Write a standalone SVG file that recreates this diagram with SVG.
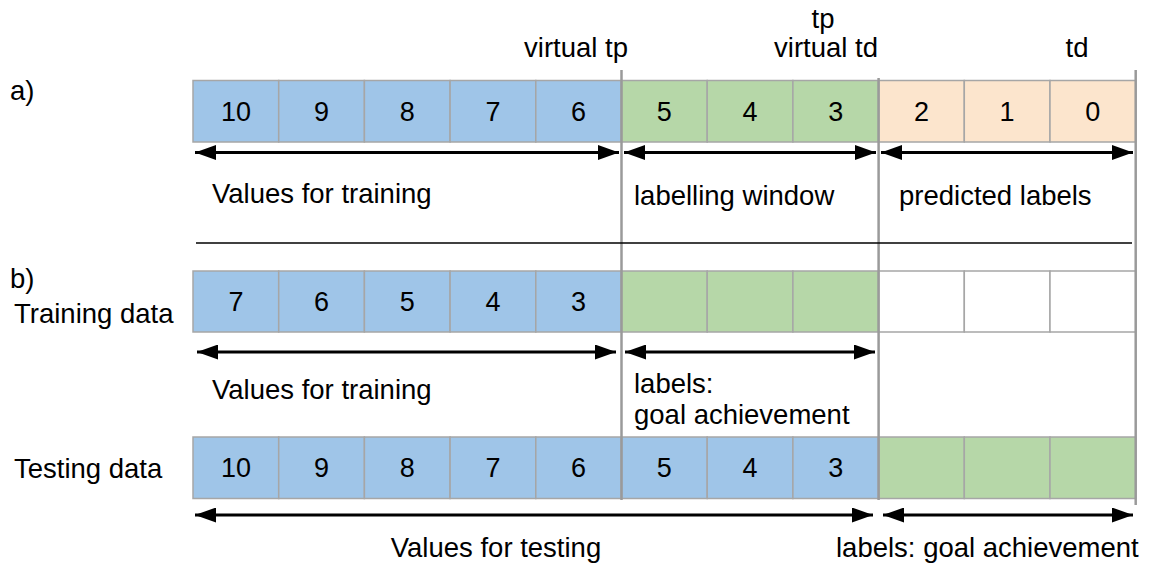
<svg xmlns="http://www.w3.org/2000/svg" width="1152" height="567" viewBox="0 0 1152 567">
<defs>
<marker id="ah" viewBox="0 0 10 10" refX="10" refY="5" markerWidth="7" markerHeight="5" markerUnits="strokeWidth" orient="auto-start-reverse" preserveAspectRatio="none">
<path d="M0,0 L10,5 L0,10 z" fill="#000"/>
</marker>
<style>
text{font-family:"Liberation Sans",Arial,sans-serif;fill:#000}
.lbl{font-size:27.5px}
.num{font-size:27px;text-anchor:middle}
.mid{text-anchor:middle}
.c{stroke:#a6a6a6;stroke-width:1.5}
.b{fill:#9fc5e8}
.g{fill:#b6d7a8}
.o{fill:#fce5cd}
.w{fill:#fff}
.div{stroke:#9a9a9a;stroke-width:2.5;fill:none}
.arr{stroke:#000;stroke-width:3;fill:none;marker-start:url(#ah);marker-end:url(#ah)}
</style>
</defs>
<rect width="1152" height="567" fill="#fff"/>

<g id="row-a">
<rect class="c b" x="193" y="80.5" width="85.7" height="61.5"/>
<rect class="c b" x="278.7" y="80.5" width="85.7" height="61.5"/>
<rect class="c b" x="364.4" y="80.5" width="85.7" height="61.5"/>
<rect class="c b" x="450.1" y="80.5" width="85.7" height="61.5"/>
<rect class="c b" x="535.8" y="80.5" width="85.7" height="61.5"/>
<rect class="c g" x="621.5" y="80.5" width="85.7" height="61.5"/>
<rect class="c g" x="707.2" y="80.5" width="85.7" height="61.5"/>
<rect class="c g" x="792.9" y="80.5" width="85.7" height="61.5"/>
<rect class="c o" x="878.6" y="80.5" width="85.7" height="61.5"/>
<rect class="c o" x="964.3" y="80.5" width="85.7" height="61.5"/>
<rect class="c o" x="1050" y="80.5" width="85.7" height="61.5"/>
<text class="num" x="236" y="121">10</text>
<text class="num" x="321.5" y="121">9</text>
<text class="num" x="407.2" y="121">8</text>
<text class="num" x="493" y="121">7</text>
<text class="num" x="578.6" y="121">6</text>
<text class="num" x="664.3" y="121">5</text>
<text class="num" x="750" y="121">4</text>
<text class="num" x="835.7" y="121">3</text>
<text class="num" x="921.4" y="121">2</text>
<text class="num" x="1007.1" y="121">1</text>
<text class="num" x="1092.8" y="121">0</text>
</g>

<g id="row-b">
<rect class="c b" x="193" y="271" width="85.7" height="61"/>
<rect class="c b" x="278.7" y="271" width="85.7" height="61"/>
<rect class="c b" x="364.4" y="271" width="85.7" height="61"/>
<rect class="c b" x="450.1" y="271" width="85.7" height="61"/>
<rect class="c b" x="535.8" y="271" width="85.7" height="61"/>
<rect class="c g" x="621.5" y="271" width="85.7" height="61"/>
<rect class="c g" x="707.2" y="271" width="85.7" height="61"/>
<rect class="c g" x="792.9" y="271" width="85.7" height="61"/>
<rect class="c w" x="878.6" y="271" width="85.7" height="61"/>
<rect class="c w" x="964.3" y="271" width="85.7" height="61"/>
<rect class="c w" x="1050" y="271" width="85.7" height="61"/>
<text class="num" x="236" y="311">7</text>
<text class="num" x="321.5" y="311">6</text>
<text class="num" x="407.2" y="311">5</text>
<text class="num" x="493" y="311">4</text>
<text class="num" x="578.6" y="311">3</text>
</g>

<g id="row-test">
<rect class="c b" x="193" y="437" width="85.7" height="61.5"/>
<rect class="c b" x="278.7" y="437" width="85.7" height="61.5"/>
<rect class="c b" x="364.4" y="437" width="85.7" height="61.5"/>
<rect class="c b" x="450.1" y="437" width="85.7" height="61.5"/>
<rect class="c b" x="535.8" y="437" width="85.7" height="61.5"/>
<rect class="c b" x="621.5" y="437" width="85.7" height="61.5"/>
<rect class="c b" x="707.2" y="437" width="85.7" height="61.5"/>
<rect class="c b" x="792.9" y="437" width="85.7" height="61.5"/>
<rect class="c g" x="878.6" y="437" width="85.7" height="61.5"/>
<rect class="c g" x="964.3" y="437" width="85.7" height="61.5"/>
<rect class="c g" x="1050" y="437" width="85.7" height="61.5"/>
<text class="num" x="236" y="477">10</text>
<text class="num" x="321.5" y="477">9</text>
<text class="num" x="407.2" y="477">8</text>
<text class="num" x="493" y="477">7</text>
<text class="num" x="578.6" y="477">6</text>
<text class="num" x="664.3" y="477">5</text>
<text class="num" x="750" y="477">4</text>
<text class="num" x="835.7" y="477">3</text>
</g>

<g id="dividers">
<line class="div" x1="621.5" y1="70" x2="621.5" y2="500"/>
<line class="div" x1="878.6" y1="78" x2="878.6" y2="500"/>
<line class="div" x1="1135.7" y1="70" x2="1135.7" y2="505"/>
<line x1="196" y1="243" x2="1132" y2="243" stroke="#000" stroke-width="1.5"/>
</g>

<g id="connectors">
<line class="arr" x1="195" y1="152.5" x2="619" y2="152.5"/>
<line class="arr" x1="624" y1="152.5" x2="876" y2="152.5"/>
<line class="arr" x1="881" y1="152.5" x2="1133" y2="152.5"/>
<line class="arr" x1="197" y1="352" x2="616" y2="352"/>
<line class="arr" x1="625" y1="352" x2="875" y2="352"/>
<line class="arr" x1="195" y1="515" x2="873" y2="515"/>
<line class="arr" x1="883" y1="515" x2="1133" y2="515"/>
</g>

<g id="labels">
<text class="lbl" x="10" y="100">a)</text>
<text class="lbl" x="10" y="288">b)</text>
<text class="lbl" x="14" y="323">Training data</text>
<text class="lbl" x="14" y="478">Testing data</text>
<text class="lbl mid" x="576" y="57">virtual tp</text>
<text class="lbl mid" x="823" y="28">tp</text>
<text class="lbl mid" x="826" y="57">virtual td</text>
<text class="lbl mid" x="1077" y="57">td</text>
<text class="lbl" x="212" y="203">Values for training</text>
<text class="lbl" x="634" y="205">labelling window</text>
<text class="lbl" x="899" y="205">predicted labels</text>
<text class="lbl" x="212" y="399">Values for training</text>
<text class="lbl" x="634" y="393">labels:</text>
<text class="lbl" x="634" y="424">goal achievement</text>
<text class="lbl mid" x="496" y="557">Values for testing</text>
<text class="lbl" x="836" y="557">labels: goal achievement</text>
</g>
</svg>
